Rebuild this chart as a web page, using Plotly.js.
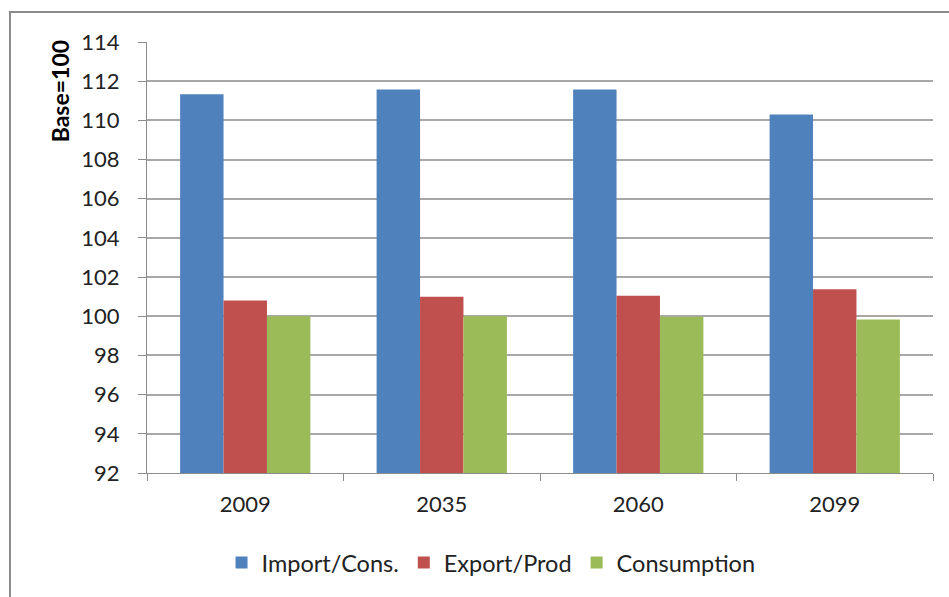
<!DOCTYPE html>
<html>
<head>
<meta charset="utf-8">
<script src="https://cdn.plot.ly/plotly-3.0.1.min.js"></script>
<style>
body{margin:0;padding:0;background:#fff;}
#wrap{position:relative;width:949px;height:597px;}
#chart{position:absolute;left:0;top:0;width:949px;height:597px;}
#frame{position:absolute;left:9px;top:11px;width:960px;height:600px;border-left:2px solid #8c8c8c;border-top:2px solid #8c8c8c;pointer-events:none;}
</style>
</head>
<body>
<div id="wrap"><div id="chart"></div><div id="frame"></div></div>
<script>
var categories = ["2009", "2035", "2060", "2099"];
var importCons = [111.33, 111.58, 111.57, 110.30];
var exportProd = [100.80, 101.00, 101.05, 101.38];
var consumption = [100.00, 100.00, 99.98, 99.83];
var seriesNames = ["Import/Cons.", "Export/Prod", "Consumption"];
var yTicks = [92, 94, 96, 98, 100, 102, 104, 106, 108, 110, 112, 114];

var font = "Lato, 'Open Sans', 'Noto Sans', sans-serif";
var colors = ["#4F81BD", "#C0504D", "#9BBB59"];
var series = [importCons, exportProd, consumption];
var data = series.map(function(v, i){
  return {type:"bar", x:categories, y:v.map(function(d){return d-92;}), base:92,
    name:seriesNames[i], marker:{color:colors[i], line:{width:0}},
    customdata:v};
});

var layout = {
  width:949, height:597,
  margin:{l:147, r:16, t:42, b:122},
  paper_bgcolor:"rgba(0,0,0,0)", plot_bgcolor:"#fff",
  barmode:"group", bargap:0.337, bargroupgap:0,
  showlegend:true,
  legend:{orientation:"h", x:0.4377, xanchor:"center", y:-0.208, yanchor:"middle",
    font:{family:font, size:23.5, color:"#222"}, traceorder:"normal"},
  xaxis:{type:"category", tickson:"boundaries", ticks:"outside", ticklen:7, tickcolor:"#8c8c8c",
    showline:true, linecolor:"#8c8c8c", linewidth:1, showgrid:false, zeroline:false,
    tickfont:{family:font, size:22, color:"#222"}, ticklabelstandoff:12},
  yaxis:{range:[92,114], tickvals:yTicks, ticktext:yTicks.map(String), ticks:"outside", ticklen:8,
    tickcolor:"#8c8c8c", showline:true, linecolor:"#8c8c8c", linewidth:1,
    showgrid:true, gridcolor:"#a8a8a8", gridwidth:2, zeroline:false,
    tickfont:{family:font, size:22, color:"#222"}, ticklabelstandoff:14},
  annotations:[{text:"<b>Base=100</b>", xref:"paper", yref:"paper", x:-0.111, y:0.885,
    textangle:-90, showarrow:false, xanchor:"center", yanchor:"middle",
    font:{family:font, size:23, color:"#000"}}]
};
Plotly.newPlot("chart", data, layout, {displayModeBar:false, staticPlot:true});
</script>
</body>
</html>
